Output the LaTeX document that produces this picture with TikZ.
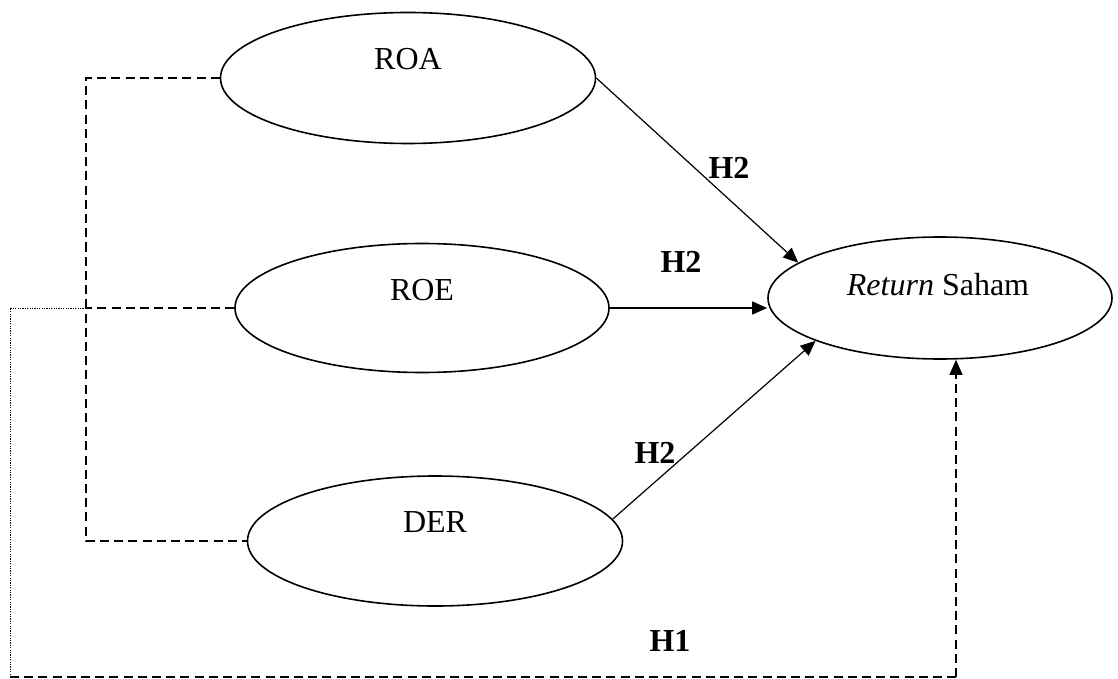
\documentclass[tikz,border=0pt]{standalone}
\usepackage{fontspec}
\setmainfont{Liberation Serif}
\usetikzlibrary{arrows.meta,shapes.geometric}
\tikzset{
  varbox/.style={draw, ellipse, line width=0.8pt, inner sep=0pt},
  hyplbl/.style={font=\fontsize{16}{19}\selectfont\bfseries},
  pathln/.style={line width=0.6pt, -{Triangle[length=7.5pt,width=6.5pt]}},
  dashln/.style={line width=0.7pt, dash pattern=on 4.5pt off 2.6pt},
  dotln/.style={line width=0.4pt, dash pattern=on 0.6pt off 0.6pt}
}

\begin{document}
\begin{tikzpicture}[font=\fontsize{16}{19}\selectfont, x=0.5pt, y=-0.5pt]
  \useasboundingbox (0,0) rectangle (1118,679);

  % independent variables
  \node[varbox, minimum width=187.5pt, minimum height=65.5pt] (roa) at (408,78) {};
  \node (roatxt) at (408,59) {ROA};
  \node[varbox, minimum width=187pt, minimum height=64.5pt] (roe) at (422,308) {};
  \node (roetxt) at (422,290) {ROE};
  \node[varbox, minimum width=187.5pt, minimum height=65pt] (der) at (435,541) {};
  \node (dertxt) at (435,522) {DER};

  % dependent variable
  \node[varbox, minimum width=172pt, minimum height=61pt] (ret) at (940,298) {};
  \node (rettxt) at (938,285) {\textit{Return} Saham};

  % partial paths
  \draw[pathln] (roa.east) -- (ret.166);
  \draw[pathln] (roe.east) -- (roe.east -| ret.west);
  \draw[pathln] (der.7) -- (ret.199);
  \node[hyplbl] (h2a) at (729,168) {H2};
  \node[hyplbl] (h2b) at (681,262) {H2};
  \node[hyplbl] (h2c) at (655,453) {H2};

  % simultaneous path
  \coordinate (spine) at (86,0);
  \coordinate (outer) at (10,677);
  \coordinate (corner) at (956,677);
  \draw[dashln] (roa.west) -- (roa.west -| spine) -- (der.west -| spine) -- (der.west);
  \draw[dashln] (roe.west) -- (roe.west -| spine);
  \draw[dotln] (roe.west -| spine) -- (roe.west -| outer) -- (outer);
  \draw[dashln] (outer) -- (corner);
  \draw[dashln, -{Triangle[length=7.5pt,width=6.5pt]}] (corner) -- (corner |- ret.south);
  \node[hyplbl] (h1) at (670,641) {H1};
\end{tikzpicture}
\end{document}
